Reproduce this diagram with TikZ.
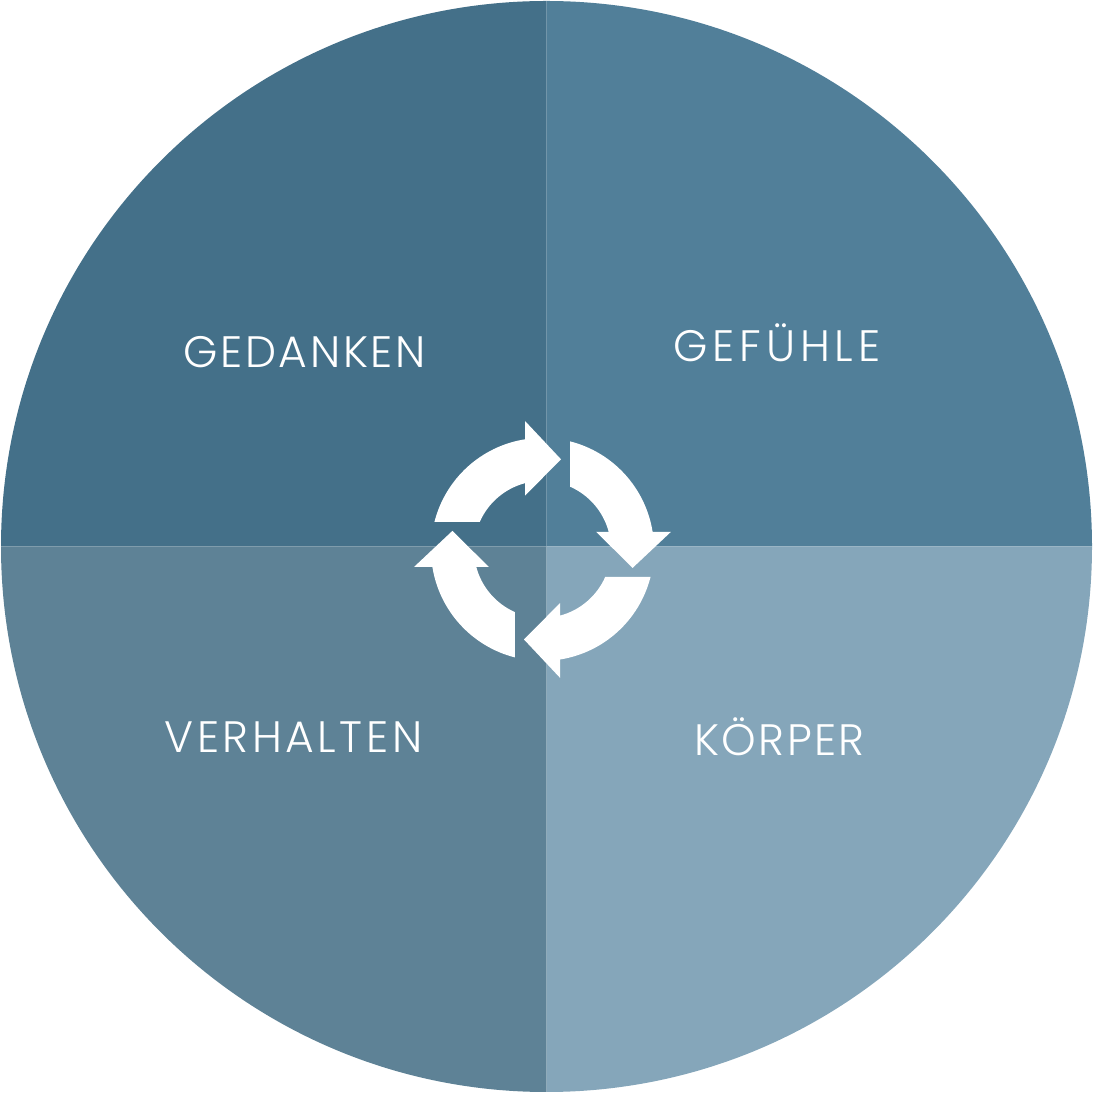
\documentclass[tikz,border=0pt]{standalone}
\usepackage{fontspec}
\setmainfont{Poppins Light}
\definecolor{qtl}{HTML}{447089}
\definecolor{qtr}{HTML}{517F99}
\definecolor{qbl}{HTML}{5E8296}
\definecolor{qbr}{HTML}{85A6BA}
\newcommand{\lsp}[2]{{\addfontfeature{LetterSpace=#1}#2}}
\begin{document}
\begin{tikzpicture}[x=1pt,y=1pt,
  lbl/.style={text=white, anchor=base, inner sep=0pt, font=\fontsize{44}{44}\selectfont}]
\useasboundingbox (0,0) rectangle (1093,1093);
\coordinate (c) at (546.5,546.5);
\fill[qtl] (c) -- ++(180:545.5) arc[start angle=180, end angle=90, radius=545.5] -- cycle;
\fill[qtr] (c) -- ++(90:545.5) arc[start angle=90, end angle=0, radius=545.5] -- cycle;
\fill[qbl] (c) -- ++(270:545.5) arc[start angle=270, end angle=180, radius=545.5] -- cycle;
\fill[qbr] (c) -- ++(0:545.5) arc[start angle=360, end angle=270, radius=545.5] -- cycle;
\coordinate (ring) at (542.5,543.6);
\foreach \a in {0,-90,-180,-270}{
  \fill[white, shift={(ring)}, rotate=\a]
    (165.67:111.5) arc[start angle=165.67, end angle=99.03, radius=111.5]
    -- (-17.5,128.4) -- (18.5,90.1) -- (-17.5,53.7)
    -- (104.8:68.5) arc[start angle=104.8, end angle=156.24, radius=68.5] -- cycle;
}
\node[lbl] (ged) at (304.5,725) {\lsp{6}{GEDANKEN}};
\node[lbl] (gef) at (777,731) {\lsp{11}{GEFÜHLE}};
\node[lbl] (ver) at (293.5,340) {\lsp{8}{VERHALTEN}};
\node[lbl] (koe) at (779.5,337) {\lsp{5.5}{KÖRPER}};
\end{tikzpicture}
\end{document}
